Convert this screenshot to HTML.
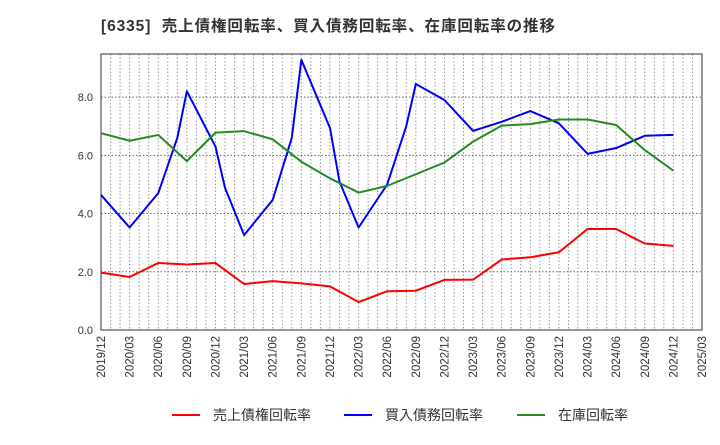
<!DOCTYPE html>
<html><head><meta charset="utf-8"><style>
body{margin:0;background:#fff;width:720px;height:440px;overflow:hidden;font-family:"Liberation Sans","Noto Sans CJK JP",sans-serif}
svg text{font-family:"Liberation Sans","Noto Sans CJK JP",sans-serif}
</style></head><body>
<svg id="c" width="720" height="440">
<text x="101" y="31" font-size="15.5" font-weight="bold" fill="#333" textLength="454" lengthAdjust="spacing" xml:space="preserve">[6335]  売上債権回転率、買入債務回転率、在庫回転率の推移</text>
</svg>
<script>
const xLabels=["2019/12","2020/03","2020/06","2020/09","2020/12","2021/03","2021/06","2021/09","2021/12","2022/03","2022/06","2022/09","2022/12","2023/03","2023/06","2023/09","2023/12","2024/03","2024/06","2024/09","2024/12","2025/03"];
const yTicks=[0,2,4,6,8];
const seriesNames=["売上債権回転率","買入債務回転率","在庫回転率"];
const seriesColors=["#ff0000","#0000ff","#228b22"];
// month offsets from 2019/12
const redMonths=[0,3,6,9,12,15,18,21,24,27,30,33,36,39,42,45,48,51,54,57,60];
const redVals=[1.97,1.82,2.3,2.25,2.3,1.58,1.68,1.6,1.5,0.96,1.33,1.35,1.72,1.73,2.42,2.5,2.67,3.47,3.47,2.97,2.89];
const blueMonths=[0,3,6,8,9,12,13,15,18,20,21,24,25,27,30,32,33,36,39,42,45,48,51,54,57,60];
const blueVals=[4.64,3.52,4.7,6.6,8.2,6.3,4.88,3.26,4.47,6.6,9.28,6.94,5.1,3.52,5.0,7.0,8.45,7.9,6.84,7.15,7.52,7.1,6.05,6.25,6.67,6.7];
const greenMonths=[0,3,6,9,12,15,18,21,24,27,30,33,36,39,42,45,48,51,54,57,60];
const greenVals=[6.76,6.5,6.7,5.8,6.78,6.83,6.55,5.78,5.21,4.72,4.95,5.35,5.75,6.47,7.02,7.07,7.23,7.23,7.04,6.18,5.47];

const svg=document.getElementById('c');const NS="http://www.w3.org/2000/svg";
const L=101,R=702,T=54,B=330,yMax=9.48,nM=63;
const xs=m=>L+(R-L)*m/nM, ys=v=>B-(B-T)*v/yMax;
function mk(t,a,p){const e=document.createElementNS(NS,t);for(const k in a)e.setAttribute(k,a[k]);(p||svg).appendChild(e);return e;}
const g=mk('g',{});


for(let m=1;m<nM;m++){mk('line',{x1:xs(m),x2:xs(m),y1:T,y2:B,stroke:'#999','stroke-dasharray':'1.5,2','stroke-width':1},g);}
yTicks.forEach(v=>{if(v>0)mk('line',{x1:L,x2:R,y1:ys(v),y2:ys(v),stroke:'#666','stroke-dasharray':'1.5,2','stroke-width':1},g);
const t=mk('text',{x:L-8,y:ys(v)+4,'font-size':11,'text-anchor':'end',fill:'#333'});t.textContent=v.toFixed(1);

});
xLabels.forEach((s,i)=>{const x=xs(i*3);const t=mk('text',{transform:`translate(${x+4},${B+6}) rotate(-90)`,'font-size':11.5,'text-anchor':'end',fill:'#333'});t.textContent=s;

});
const fr=mk('rect',{x:L,y:T,width:R-L,height:B-T,fill:'none',stroke:'#333','stroke-width':1});


const data=[[redMonths,redVals],[blueMonths,blueVals],[greenMonths,greenVals]];
const names=['receivables-turnover-line','payables-turnover-line','inventory-turnover-line'];
data.forEach((d,k)=>{const pts=d[0].map((m,i)=>xs(m)+','+ys(d[1][i])).join(' ');
const p=mk('polyline',{points:pts,fill:'none',stroke:seriesColors[k],'stroke-width':2,'stroke-linejoin':'round'});

});
const lx=[172,344,517];
seriesNames.forEach((n,k)=>{const lg=mk('g',{});


mk('line',{x1:lx[k],x2:lx[k]+28,y1:415,y2:415,stroke:seriesColors[k],'stroke-width':2},lg);
const t=mk('text',{x:lx[k]+41,y:420,'font-size':14,fill:'#333'},lg);t.textContent=n;});
</script>
</body></html>
